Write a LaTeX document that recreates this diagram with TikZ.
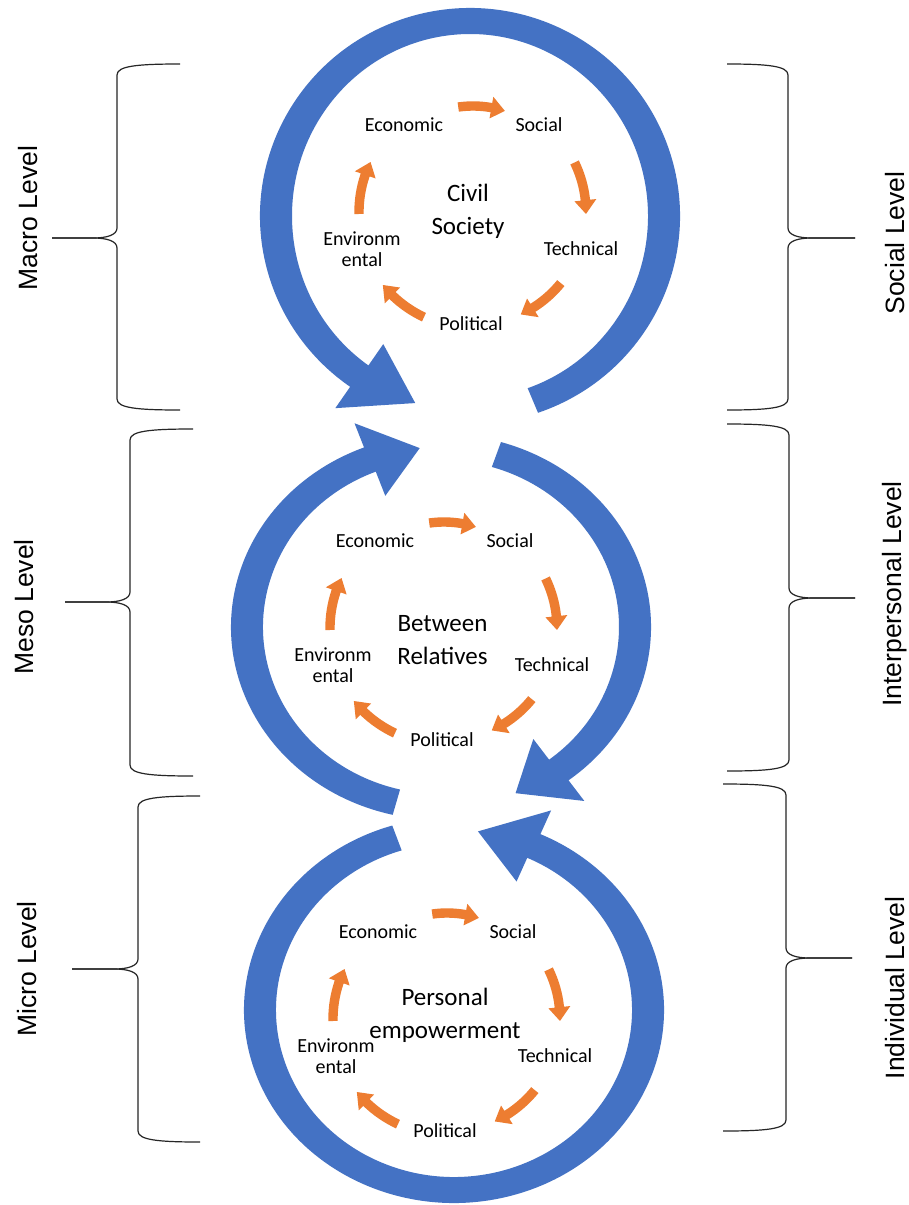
\documentclass[tikz,border=0pt]{standalone}
\usepackage{fontspec}
\setmainfont{Carlito}
\newfontfamily\sidefont{Liberation Sans}
\usetikzlibrary{calc}
\definecolor{ringblue}{HTML}{4472C4}
\definecolor{cycorange}{HTML}{ED7D31}
\definecolor{bracegray}{HTML}{262626}
% curved block arrow: #1 cx, #2 cy, #3 rx, #4 ry, #5 tail angle, #6 head-base angle, #7 tip angle, #8 style
\newcommand{\curvarrow}[8]{%
 \pgfmathsetmacro\CAox{#3+\WX}\pgfmathsetmacro\CAoy{#4+\WY}%
 \pgfmathsetmacro\CAix{#3-\WX}\pgfmathsetmacro\CAiy{#4-\WY}%
 \pgfmathsetmacro\CApx{#3+\HX}\pgfmathsetmacro\CApy{#4+\HY}%
 \pgfmathsetmacro\CAqx{#3-\HX}\pgfmathsetmacro\CAqy{#4-\HY}%
 \fill[#8] ($(#1,#2)+(#5:{\CAox} and {\CAoy})$) arc[start angle=#5, end angle=#6, x radius=\CAox, y radius=\CAoy]
   -- ($(#1,#2)+(#6:{\CApx} and {\CApy})$) -- ($(#1,#2)+(#7:{#3} and {#4})$) -- ($(#1,#2)+(#6:{\CAqx} and {\CAqy})$)
   -- ($(#1,#2)+(#6:{\CAix} and {\CAiy})$) arc[start angle=#6, end angle=#5, x radius=\CAix, y radius=\CAiy] -- cycle;
}
% brace: #1 arm end x, #2 spine x, #3 tip x, #4 top y, #5 tip y, #6 bottom y
\newcommand{\drawbrace}[6]{%
 \pgfmathsetmacro\DBs{ifthenelse(#1>#2,1,-1)}%
 \draw[bracestyle] (#1,#4) .. controls ({#2+20*\DBs},#4) and (#2,{#4+2}) .. (#2,{#4+11}) -- (#2,{#5-10})
   .. controls (#2,{#5-3}) and ({#2-10*\DBs},#5) .. ({#2-24*\DBs},#5) -- (#3,#5);
 \draw[bracestyle] (#3,#5) -- ({#2-24*\DBs},#5) .. controls ({#2-10*\DBs},#5) and (#2,{#5+3}) .. (#2,{#5+10})
   -- (#2,{#6-11}) .. controls (#2,{#6-2}) and ({#2+20*\DBs},#6) .. (#1,#6);
}
% five orange arrows and labels around a cycle centre
\newcommand{\drawcyc}[3]{% #1 cx, #2 cy, #3 name prefix
 \curvarrow{#1}{#2}{106}{106}{-98}{-80}{-72.5}{cycfill}
 \curvarrow{#1}{#2}{113}{113}{-26}{-6}{1}{cycfill}
 \curvarrow{#1}{#2}{113}{113}{39}{58}{65}{cycfill}
 \curvarrow{#1}{#2}{116}{116}{115}{134}{141}{cycfill}
 \curvarrow{#1}{#2}{114}{114}{179}{199}{206}{cycfill}
 \node[smalllabel] (#3eco) at ($(#1,#2)+(-69,-87)$) {Economic};
 \node[smalllabel] (#3soc) at ($(#1,#2)+(66,-87)$) {Social};
 \node[smalllabel] (#3tec) at ($(#1,#2)+(108,37)$) {Technical};
 \node[smalllabel] (#3pol) at ($(#1,#2)+(-2,112)$) {Political};
 \node[smalllabel] (#3env) at ($(#1,#2)+(-111,37)$) {Environm\\ental};
}
\begin{document}
\begin{tikzpicture}[x=1pt,y=-1pt,
  ringfill/.style={fill=ringblue},
  cycfill/.style={fill=cycorange},
  bracestyle/.style={draw=bracegray,line width=1.2pt},
  smalllabel/.style={inner sep=0pt,align=center,font=\fontsize{20}{21}\selectfont},
  biglabel/.style={inner sep=0pt,align=center,font=\fontsize{25}{33}\selectfont},
  sidelabel/.style={inner sep=0pt,rotate=90,font=\sidefont\fontsize{26.5}{30}\selectfont}]
\useasboundingbox (0,0) rectangle (908,1205);
\fill[white] (0,0) rectangle (908,1205);
% blue rings
\def\WX{16}\def\WY{13}\def\HX{42}\def\HY{39}
\curvarrow{470}{216}{194}{195}{71.1}{-235.2}{-253.6}{ringfill}
\curvarrow{441}{627}{194}{180}{103.3}{248.5}{263.7}{ringfill}
\curvarrow{441}{627}{194}{180}{-73.4}{52.6}{67.4}{ringfill}
\curvarrow{454}{1010}{194}{180}{252.9}{-65.7}{-82.9}{ringfill}
% orange cycles
\def\WX{4.7}\def\WY{4.7}\def\HX{11}\def\HY{11}
\drawcyc{473}{212}{top}
\drawcyc{444}{628}{mid}
\drawcyc{447}{1019}{bot}
\node[biglabel] (civil) at (468,211) {Civil\\Society};
\node[biglabel] (relatives) at (442.5,640.5) {Between\\Relatives};
\node[biglabel] (personal) at (445,1015) {Personal\\empowerment};
% braces
\drawbrace{180}{117}{52}{64}{238}{410}
\drawbrace{193}{130}{65}{429}{602}{776}
\drawbrace{200}{138}{72}{796}{969}{1142}
\drawbrace{727}{788}{855}{64}{238}{410}
\drawbrace{727}{789}{855}{424}{598}{771}
\drawbrace{723}{786}{852}{784}{958}{1131}
% side labels
\node[sidelabel] (macro) at (28,218) {Macro Level};
\node[sidelabel] (meso) at (24,607) {Meso Level};
\node[sidelabel] (micro) at (27,969) {Micro Level};
\node[sidelabel] (social) at (895,243) {Social Level};
\node[sidelabel] (inter) at (895,594) {Interpersonal Level};
\node[sidelabel] (indiv) at (895,988) {Individual Level};
\end{tikzpicture}
\end{document}
